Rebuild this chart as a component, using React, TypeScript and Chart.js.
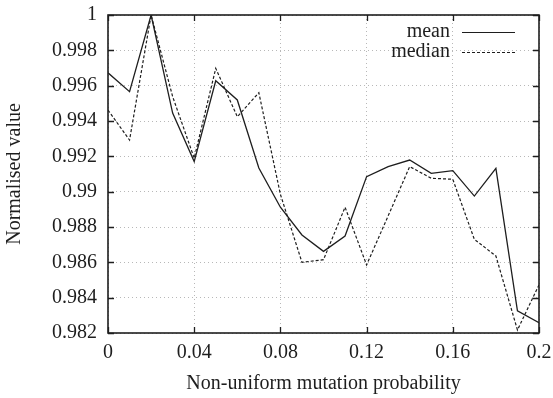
import React, { useEffect, useRef } from "react";
import { Chart, registerables } from "chart.js";

Chart.register(...registerables);

const probabilities = [0, 0.01, 0.02, 0.03, 0.04, 0.05, 0.06, 0.07, 0.08, 0.09, 0.1, 0.11, 0.12, 0.13, 0.14, 0.15, 0.16, 0.17, 0.18, 0.19, 0.2];
const meanValues = [0.99673, 0.99566, 1.0, 0.99445, 0.9917, 0.99628, 0.99519, 0.99134, 0.98912, 0.98755, 0.98662, 0.98749, 0.99085, 0.99142, 0.99179, 0.99104, 0.99119, 0.98975, 0.99132, 0.98325, 0.98258];
const medianValues = [0.99462, 0.99292, 1.0, 0.99538, 0.9919, 0.99698, 0.99424, 0.9956, 0.98985, 0.986, 0.98615, 0.98912, 0.98585, 0.98863, 0.99142, 0.99076, 0.9907, 0.9873, 0.98636, 0.98217, 0.98472];
const seriesLabels = ["mean", "median"];
const xTickValues = [0, 0.04, 0.08, 0.12, 0.16, 0.2];

const FONT = "'Liberation Serif', 'Times New Roman', serif";
const INK = "#1e1e1e";

const framePlugin = {
  id: "frameAndLegend",
  afterDraw(chart: any) {
    const { ctx, chartArea: a, scales } = chart;
    const xs = scales.x;
    const ys = scales.y;
    ctx.save();
    ctx.strokeStyle = INK;
    ctx.lineWidth = 1.3;
    ctx.setLineDash([]);
    const tl = 6;
    ctx.beginPath();
    xs.ticks.forEach((t: any) => {
      const px = Math.round(xs.getPixelForValue(t.value)) + 0.5;
      ctx.moveTo(px, a.bottom);
      ctx.lineTo(px, a.bottom - tl);
      ctx.moveTo(px, a.top);
      ctx.lineTo(px, a.top + tl);
    });
    ys.ticks.forEach((t: any) => {
      const py = Math.round(ys.getPixelForValue(t.value)) + 0.5;
      ctx.moveTo(a.left, py);
      ctx.lineTo(a.left + tl, py);
      ctx.moveTo(a.right, py);
      ctx.lineTo(a.right - tl, py);
    });
    ctx.stroke();
    ctx.lineWidth = 1.6;
    ctx.strokeRect(a.left, a.top, a.right - a.left, a.bottom - a.top);

    // legend
    ctx.font = "20px " + FONT;
    ctx.textAlign = "right";
    ctx.textBaseline = "middle";
    ctx.fillStyle = INK;
    chart.data.datasets.forEach((ds: any, i: number) => {
      const y = a.top + 17 + i * 20;
      ctx.fillText(ds.label, a.right - 89, y);
      ctx.beginPath();
      ctx.lineWidth = 1.2;
      ctx.setLineDash(ds.borderDash || []);
      ctx.moveTo(a.right - 77, y + 0.5);
      ctx.lineTo(a.right - 24, y + 0.5);
      ctx.stroke();
    });
    ctx.restore();
  },
};

export default function App() {
  const ref = useRef<HTMLCanvasElement>(null);
  useEffect(() => {
    document.body.style.margin = "0";
    const canvas = ref.current!;
    const chart = new Chart(canvas, {
      type: "line",
      data: {
        datasets: [
          {
            label: seriesLabels[0],
            data: probabilities.map((p, i) => ({ x: p, y: meanValues[i] })),
            borderColor: INK,
            borderWidth: 1.3,
            pointRadius: 0,
            tension: 0,
            fill: false,
          },
          {
            label: seriesLabels[1],
            data: probabilities.map((p, i) => ({ x: p, y: medianValues[i] })),
            borderColor: INK,
            borderWidth: 1.2,
            borderDash: [3, 2],
            pointRadius: 0,
            tension: 0,
            fill: false,
          },
        ],
      },
      options: {
        responsive: false,
        animation: false,
        events: [],
        layout: { padding: { top: 15, right: 14, left: 0, bottom: 0 } },
        plugins: { legend: { display: false }, tooltip: { enabled: false } },
        scales: {
          x: {
            type: "linear",
            min: 0,
            max: 0.2,
            afterBuildTicks: (s: any) => {
              s.ticks = xTickValues.map((v) => ({ value: v }));
            },
            afterFit: (s: any) => {
              s.height = 65;
              s.paddingLeft = 0;
              s.paddingRight = 0;
            },
            ticks: {
              color: INK,
              font: { family: FONT, size: 20 },
              padding: 8,
              maxRotation: 0,
              callback: (v: any) => String(Number(Number(v).toFixed(2))),
            },
            grid: { color: "rgba(0,0,0,0.28)", lineWidth: 1, drawTicks: false },
            border: { display: false, dash: [1, 3] },
            title: {
              display: true,
              text: "Non-uniform mutation probability",
              color: INK,
              font: { family: FONT, size: 20 },
              padding: { top: 0, bottom: 2 },
            },
          },
          y: {
            type: "linear",
            min: 0.982,
            max: 1,
            afterFit: (s: any) => {
              s.width = 108;
              s.paddingTop = 0;
              s.paddingBottom = 0;
            },
            ticks: {
              stepSize: 0.002,
              color: INK,
              font: { family: FONT, size: 20 },
              padding: 11,
              callback: (v: any) => String(Number(Number(v).toFixed(3))),
            },
            grid: { color: "rgba(0,0,0,0.28)", lineWidth: 1, drawTicks: false },
            border: { display: false, dash: [1, 3] },
            title: {
              display: true,
              text: "Normalised value",
              color: INK,
              font: { family: FONT, size: 20 },
              padding: { top: 3, bottom: 0 },
            },
          },
        },
      },
      plugins: [framePlugin],
    });
    return () => chart.destroy();
  }, []);
  return (
    <div style={{ width: 553, height: 398, background: "#fff" }}>
      <canvas ref={ref} width={553} height={398} style={{ display: "block" }} />
    </div>
  );
}
